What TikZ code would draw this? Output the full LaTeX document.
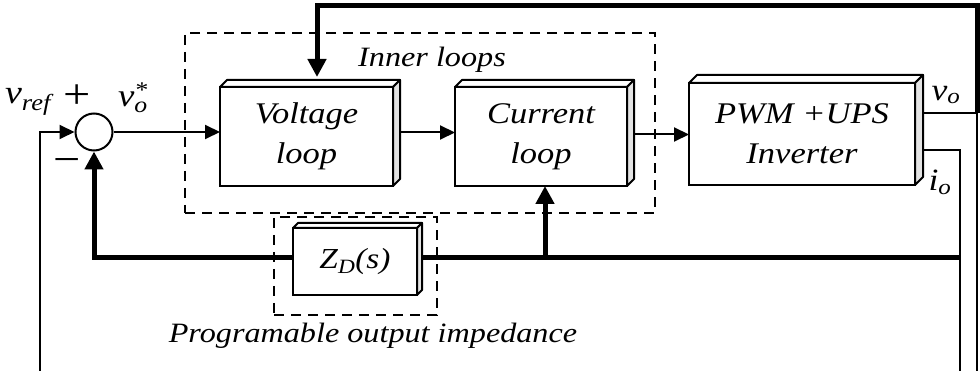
\documentclass[tikz,border=0pt]{standalone}
\usepackage{amsmath}
\usepackage{fontspec}
\setmainfont{Liberation Serif}[FakeStretch=1.15]
\usetikzlibrary{arrows.meta,calc}
\newcommand\blkfaces[2]{%
  \draw[line width=2pt, line join=round, fill=white] (#1.north west) -- ++(#2,-#2) -- ($(#1.north east)+(#2,-#2)$) -- (#1.north east) -- cycle;
  \draw[line width=2pt, line join=round, fill=gray!22] (#1.north east) -- ++(#2,-#2) -- ($(#1.south east)+(#2,-#2)$) -- (#1.south east) -- cycle;}
\begin{document}
\begin{tikzpicture}[x=1pt,y=-1pt,
  thinln/.style={line width=2pt},
  thickln/.style={line width=5pt},
  tipa/.style={-{Triangle[length=15pt,width=14pt]}},
  tipb/.style={-{Triangle[length=18pt,width=18pt]}},
  blk/.style={draw, line width=2.2pt, fill=white, align=center, inner sep=0pt, outer sep=0pt,
    font=\fontsize{30}{40}\selectfont\itshape},
  dbox/.style={draw, line width=2.2pt, dash pattern=on 10pt off 7pt, inner sep=0pt, outer sep=0pt},
  lab/.style={font=\fontsize{28}{32}\selectfont\itshape, inner sep=0pt}]
\useasboundingbox (0,0) rectangle (980,371);

% dashed groups
\node[dbox, minimum width=470pt, minimum height=180pt] (inner) at (420,123) {};
\node[dbox, minimum width=163pt, minimum height=98pt] (zgrp) at (355.5,266) {};

% summing junction
\node[circle, draw, line width=2pt, minimum size=37pt, inner sep=0pt, fill=white] (sum) at (94,132) {};

% coordinates
\coordinate (vin) at (40,371);
\coordinate (vo) at (977,113);
\coordinate (vob) at (977,371);
\coordinate (tr) at (977,6);
\coordinate (tl) at (317,6);
\coordinate (io) at (960,150);
\coordinate (iob) at (960,371);
\coordinate (fbr) at (960,258);
\coordinate (fbl) at (94,258);
\coordinate (cj) at (545,258);

% feedback lines (drawn before blocks)
\draw[thickln, tipb] (fbr) -- (fbl) -- (sum.south);
\draw[thickln, tipb] (cj) -- (545,186);

% blocks
\node[blk, minimum width=173pt, minimum height=99pt] (vl) at (306.5,136.5) {Voltage\\loop};
\blkfaces{vl}{7}
\node[blk, minimum width=172pt, minimum height=99pt] (cl) at (541,136.5) {Current\\loop};
\blkfaces{cl}{7}
\node[blk, minimum width=226pt, minimum height=102pt] (pwm) at (802,134) {PWM +UPS\\Inverter};
\blkfaces{pwm}{8}
\node[blk, minimum width=124pt, minimum height=67pt, font=\fontsize{29}{34}\selectfont\itshape] (zd) at (355,261.5) {$\textit{Z}_{\textit{D}}\textit{(s)}$};
\blkfaces{zd}{5}

% forward path
\draw[thinln, tipa] (vin) |- (sum.west);
\draw[thinln, tipa] (sum.east) -- (vl.west |- sum.east);
\draw[thinln, tipa] ($(vl.east)+(7,-4)$) -- (cl.west |- 0,132.5);
\draw[thinln, tipa] ($(cl.east)+(7,-2)$) -- (pwm.west |- 0,134.5);

% outputs
\draw[thinln] ($(pwm.east |- vo)+(8,0)$) -- (vo) -- (vob);
\draw[thickln, tipb] (vo) -- (tr) -- (tl) -- (317,77);
\draw[thinln] ($(pwm.east |- io)+(8,0)$) -- (io) -- (iob);
\draw[thinln] (fbr) -- (io);

% labels
\node[lab, font=\fontsize{33}{36}\selectfont\itshape] (vref) at (28,102) {$\textit{v}_{\textit{ref}}$};
\node[lab, font=\fontsize{42}{46}\selectfont] (plus) at (77,97) {+};
\node[lab, font=\fontsize{42}{46}\selectfont] (minus) at (67,166) {−};
\node[lab, font=\fontsize{32}{36}\selectfont\itshape] (vostar) at (133,98) {$\textit{v}^{\text{*}}_{\textit{o}}$};
\node[lab] (innerlab) at (432,60) {Inner loops};
\node[lab, font=\fontsize{31}{36}\selectfont\itshape] (volab) at (946,95) {$\textit{v}_{\textit{o}}$};
\node[lab, font=\fontsize{31}{36}\selectfont\itshape] (iolab) at (940,182) {$\textit{i}_{\textit{o}}$};
\node[lab] (prog) at (373,336) {Programable output impedance};
\end{tikzpicture}
\end{document}
